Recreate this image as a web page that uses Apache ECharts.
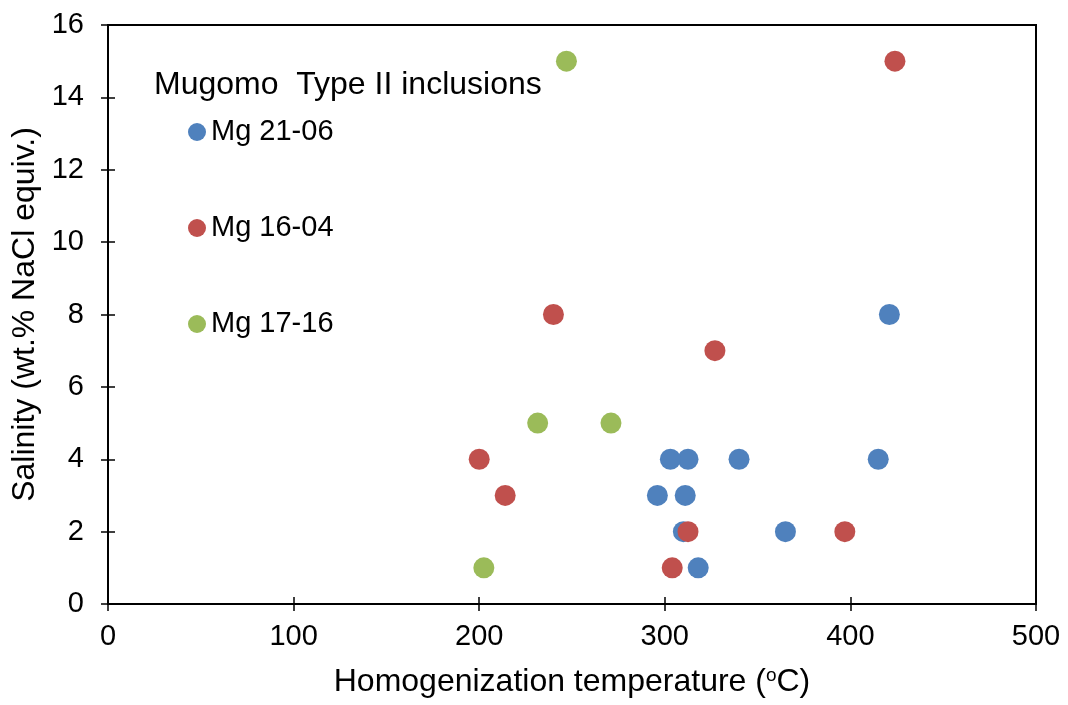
<!DOCTYPE html>
<html>
<head>
<meta charset="utf-8">
<script src="https://cdn.jsdelivr.net/npm/echarts@6/dist/echarts.min.js"></script>
<style>html,body{margin:0;padding:0;background:#fff}#c{width:1068px;height:705px}</style>
</head>
<body>
<div id="c"></div>
<script>
const seriesNames = ['Mg 21-06', 'Mg 16-04', 'Mg 17-16'];
const mg2106 = [[421,8],[415,4],[365,2],[340,4],[312.5,4],[303,4],[296,3],[311,3],[310,2],[318,1]];
const mg1604 = [[424,15],[240,8],[327,7],[200,4],[214,3],[312.5,2],[397,2],[304,1]];
const mg1716 = [[247,15],[231.5,5],[271,5],[202.5,1]];
const xTicks = [0,100,200,300,400,500];
const yTicks = [0,2,4,6,8,10,12,14,16];
const colors = ['#4F81BD','#C0504D','#9BBB59'];
const FONT = 'Liberation Sans, Arial, sans-serif';

const chart = echarts.init(document.getElementById('c'));
const axisCommon = {
  axisLine: {show: true, lineStyle: {color: '#000', width: 2}},
  splitLine: {show: false}
};
chart.setOption({
  animation: false,
  color: colors,
  title: {
    text: 'Mugomo  Type II inclusions',
    left: 149, top: 64,
    textStyle: {fontFamily: FONT, fontSize: 32, fontWeight: 'normal', color: '#000'}
  },
  legend: {
    orient: 'vertical',
    left: 183, top: 112,
    icon: 'circle',
    itemWidth: 18, itemHeight: 18,
    itemGap: 66,
    data: seriesNames,
    textStyle: {fontFamily: FONT, fontSize: 29, color: '#000', lineHeight: 30}
  },
  grid: {left: 108, right: 32, top: 25, bottom: 101, show: true, borderColor: '#000', borderWidth: 2},
  xAxis: [{
    type: 'value', min: xTicks[0], max: xTicks[xTicks.length-1], interval: 100, position: 'bottom',
    ...axisCommon,
    axisTick: {show: true, inside: false, length: 7, lineStyle: {color: '#000', width: 1.5}},
    axisLabel: {fontFamily: FONT, fontSize: 29, color: '#000', margin: 18},
    name: 'Homogenization temperature ({sup|o}C)',
    nameLocation: 'middle', nameGap: 62,
    nameTextStyle: {fontFamily: FONT, fontSize: 32, color: '#000',
      rich: {sup: {fontFamily: FONT, fontSize: 19, verticalAlign: 'top', padding: [0,0,13,0], color: '#000'}}}
  },{
    type: 'value', min: xTicks[0], max: xTicks[xTicks.length-1], interval: 100, position: 'bottom',
    axisLine: {show: false}, splitLine: {show: false}, axisLabel: {show: false},
    axisTick: {show: true, inside: true, length: 7, lineStyle: {color: '#000', width: 1.5}}
  }],
  yAxis: [{
    type: 'value', min: yTicks[0], max: yTicks[yTicks.length-1], interval: 2, position: 'left',
    ...axisCommon,
    axisTick: {show: true, inside: false, length: 7, lineStyle: {color: '#000', width: 1.5}},
    axisLabel: {fontFamily: FONT, fontSize: 29, color: '#000', margin: 24},
    name: 'Salinity (wt.% NaCl equiv.)',
    nameLocation: 'middle', nameGap: 66,
    nameTextStyle: {fontFamily: FONT, fontSize: 32, color: '#000'}
  },{
    type: 'value', min: yTicks[0], max: yTicks[yTicks.length-1], interval: 2, position: 'left',
    axisLine: {show: false}, splitLine: {show: false}, axisLabel: {show: false},
    axisTick: {show: true, inside: true, length: 7, lineStyle: {color: '#000', width: 1.5}}
  }],
  series: [
    {name: seriesNames[0], type: 'scatter', data: mg2106, symbolSize: 21, itemStyle: {opacity: 1}},
    {name: seriesNames[1], type: 'scatter', data: mg1604, symbolSize: 21, itemStyle: {opacity: 1}},
    {name: seriesNames[2], type: 'scatter', data: mg1716, symbolSize: 21, itemStyle: {opacity: 1}}
  ]
});
</script>
</body>
</html>
